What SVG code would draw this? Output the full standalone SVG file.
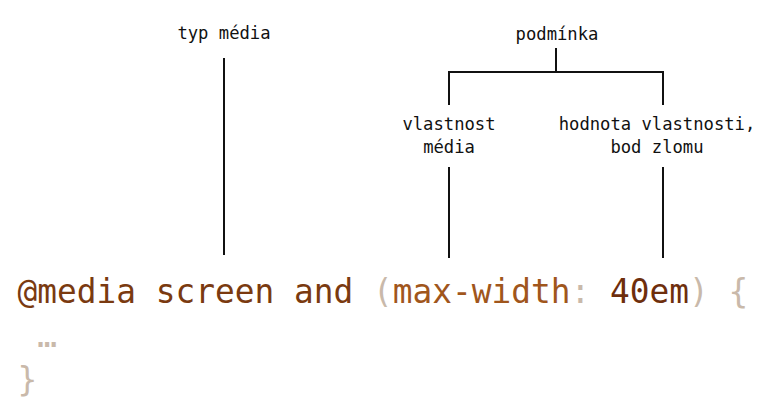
<svg xmlns="http://www.w3.org/2000/svg" width="773" height="407" viewBox="0 0 773 407">
<style>
.lbl{font-family:"DejaVu Sans Mono","Liberation Mono",monospace;font-size:17.2px;fill:#111;text-anchor:middle}
.code{font-family:"DejaVu Sans Mono","Liberation Mono",monospace;font-size:32.8px}
.kw{fill:#7a3a10}
.prop{fill:#a0561c}
.num{fill:#6e2e0c}
.punc{fill:#c9b9aa}
.ln{stroke:#111;stroke-width:2;fill:none}
</style>
<rect width="773" height="407" fill="#fff"/>
<g id="connectors">
<line class="ln" x1="224" y1="58" x2="224" y2="255"/>
<path class="ln" d="M556 48 V72 M449 105 V72 H663 V105"/>
<line class="ln" x1="449" y1="167" x2="449" y2="258"/>
<line class="ln" x1="663" y1="167" x2="663" y2="258"/>
</g>
<g id="typ-media"><text class="lbl" x="224" y="39">typ média</text></g>
<g id="podminka"><text class="lbl" x="557" y="39.5">podmínka</text></g>
<g id="vlastnost-media">
<text class="lbl" x="449" y="130">vlastnost</text>
<text class="lbl" x="449" y="153">média</text>
</g>
<g id="hodnota">
<text class="lbl" x="657" y="130">hodnota vlastnosti,</text>
<text class="lbl" x="657" y="153">bod zlomu</text>
</g>
<g id="code">
<text class="code" x="17.6" y="303" xml:space="preserve"><tspan class="kw">@media screen and </tspan><tspan class="punc">(</tspan><tspan class="prop">max-width</tspan><tspan class="punc">: </tspan><tspan class="num">40em</tspan><tspan class="punc">) {</tspan></text>
<text class="code punc" x="17.6" y="347" xml:space="preserve"> …</text>
<text class="code punc" x="17.6" y="391">}</text>
</g>
</svg>
